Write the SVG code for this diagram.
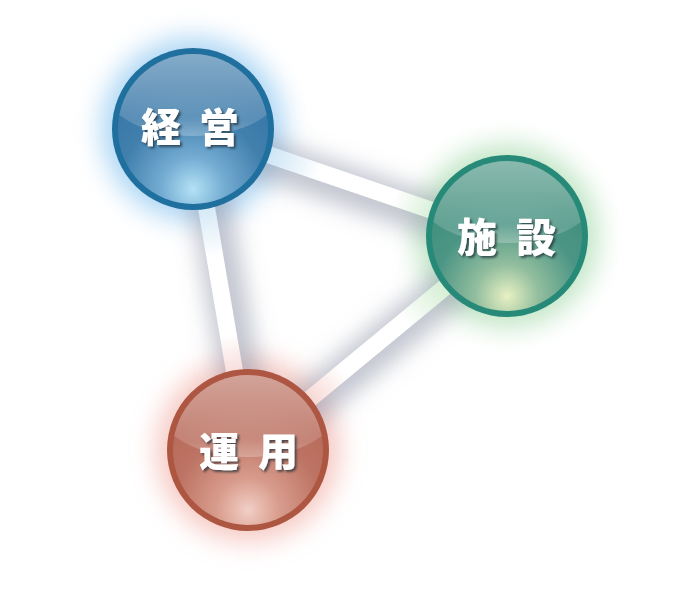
<svg xmlns="http://www.w3.org/2000/svg" width="700" height="613" viewBox="0 0 700 613">
<defs>
  <filter id="glow" x="-60%" y="-60%" width="220%" height="220%"><feGaussianBlur stdDeviation="13"/></filter>
  <filter id="barShadow" x="-30%" y="-30%" width="160%" height="160%"><feGaussianBlur stdDeviation="11"/></filter>
  <filter id="txtShadow" x="-20%" y="-20%" width="140%" height="140%">
    <feDropShadow dx="2" dy="2" stdDeviation="1.2" flood-color="#1a2a33" flood-opacity="0.7"/>
  </filter>
  <radialGradient id="bodyBlue" cx="0.5" cy="0.9" r="0.7">
    <stop offset="0" stop-color="#b4e2f6"/>
    <stop offset="0.3" stop-color="#74acd2"/>
    <stop offset="0.7" stop-color="#417fad"/>
    <stop offset="1" stop-color="#3a78a8"/>
  </radialGradient>
  <radialGradient id="bodyGreen" cx="0.5" cy="0.9" r="0.7">
    <stop offset="0" stop-color="#e8f0c4"/>
    <stop offset="0.3" stop-color="#92be9e"/>
    <stop offset="0.7" stop-color="#4c9585"/>
    <stop offset="1" stop-color="#43907e"/>
  </radialGradient>
  <radialGradient id="bodyRed" cx="0.5" cy="0.9" r="0.7">
    <stop offset="0" stop-color="#f2cfc6"/>
    <stop offset="0.3" stop-color="#d89c8c"/>
    <stop offset="0.7" stop-color="#bd7464"/>
    <stop offset="1" stop-color="#b86b5b"/>
  </radialGradient>
  <linearGradient id="hl" x1="0" y1="0" x2="0" y2="1">
    <stop offset="0" stop-color="#ffffff" stop-opacity="0.45"/>
    <stop offset="0.85" stop-color="#ffffff" stop-opacity="0.15"/>
    <stop offset="1" stop-color="#ffffff" stop-opacity="0.25"/>
  </linearGradient>
  <linearGradient id="bar1" gradientUnits="userSpaceOnUse" x1="270" y1="155" x2="435" y2="212">
    <stop offset="0" stop-color="#cfe6f6"/>
    <stop offset="0.3" stop-color="#ffffff"/>
    <stop offset="0.75" stop-color="#ffffff"/>
    <stop offset="1" stop-color="#d6efd6"/>
  </linearGradient>
  <linearGradient id="bar2" gradientUnits="userSpaceOnUse" x1="205" y1="205" x2="236" y2="378">
    <stop offset="0" stop-color="#d3e8f6"/>
    <stop offset="0.3" stop-color="#ffffff"/>
    <stop offset="0.75" stop-color="#ffffff"/>
    <stop offset="1" stop-color="#f6d8d4"/>
  </linearGradient>
  <linearGradient id="bar3" gradientUnits="userSpaceOnUse" x1="445" y1="288" x2="310" y2="400">
    <stop offset="0" stop-color="#d6efd6"/>
    <stop offset="0.3" stop-color="#ffffff"/>
    <stop offset="0.75" stop-color="#ffffff"/>
    <stop offset="1" stop-color="#f6d8d4"/>
  </linearGradient>
  <clipPath id="cBlue"><circle cx="193" cy="129" r="75"/></clipPath>
  <clipPath id="cGreen"><circle cx="507" cy="236" r="75"/></clipPath>
  <clipPath id="cRed"><circle cx="248" cy="450" r="75"/></clipPath>
  <style>
    .shadow { stroke: #9298aa; stroke-width: 40; stroke-opacity: 0.55; fill: none; }
    .bar { stroke-width: 17; fill: none; }
    .label { font-family: "Noto Sans CJK JP", "Noto Sans CJK SC", sans-serif; font-weight: 900; font-size: 40px; fill: #ffffff; text-anchor: middle; }
    .halo { opacity: 0.7; }
  </style>
</defs>
<rect width="700" height="613" fill="#ffffff"/>

<g id="halos">
  <circle class="halo" cx="193" cy="129" r="92" fill="#8cc6f0" filter="url(#glow)"/>
  <circle class="halo" cx="507" cy="236" r="92" fill="#a8dcae" filter="url(#glow)"/>
  <circle class="halo" cx="248" cy="450" r="92" fill="#f3b4ac" filter="url(#glow)"/>
</g>

<g id="connectors">
  <g filter="url(#barShadow)">
    <line class="shadow" x1="193" y1="134" x2="507" y2="241"/>
    <line class="shadow" x1="198" y1="129" x2="253" y2="450"/>
    <line class="shadow" x1="507" y1="241" x2="248" y2="455"/>
  </g>
  <line class="bar" stroke="url(#bar1)" x1="193" y1="129" x2="507" y2="236"/>
  <line class="bar" stroke="url(#bar2)" x1="193" y1="129" x2="248" y2="450"/>
  <line class="bar" stroke="url(#bar3)" x1="507" y1="236" x2="248" y2="450"/>
</g>

<g id="node-keiei">
  <circle cx="193" cy="129" r="81" fill="#20709f"/>
  <circle cx="193" cy="129" r="75" fill="url(#bodyBlue)"/>
  <ellipse cx="193" cy="84" rx="92" ry="52" fill="url(#hl)" clip-path="url(#cBlue)"/>
  <text class="label" x="161 219" y="142" filter="url(#txtShadow)">経営</text>
</g>

<g id="node-shisetsu">
  <circle cx="507" cy="236" r="81" fill="#278a78"/>
  <circle cx="507" cy="236" r="75" fill="url(#bodyGreen)"/>
  <ellipse cx="507" cy="191" rx="92" ry="52" fill="url(#hl)" clip-path="url(#cGreen)"/>
  <text class="label" x="477 536" y="252" filter="url(#txtShadow)">施設</text>
</g>

<g id="node-unyo">
  <circle cx="248" cy="450" r="81" fill="#ad5641"/>
  <circle cx="248" cy="450" r="75" fill="url(#bodyRed)"/>
  <ellipse cx="248" cy="405" rx="92" ry="52" fill="url(#hl)" clip-path="url(#cRed)"/>
  <text class="label" x="219 278" y="466" filter="url(#txtShadow)">運用</text>
</g>
</svg>
